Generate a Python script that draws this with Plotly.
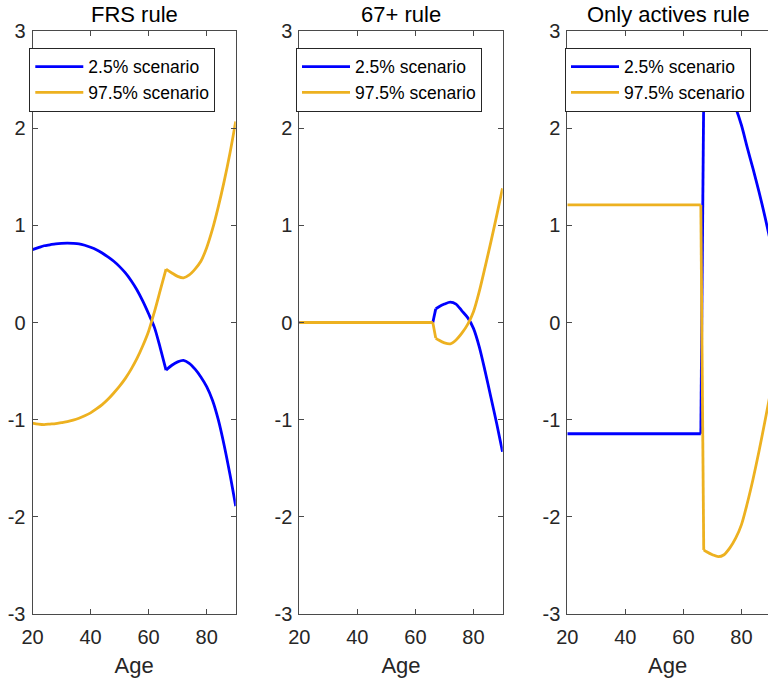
import plotly.graph_objects as go

# ---- data -----------------------------------------------------------------
series_names = ["2.5% scenario", "97.5% scenario"]
panel_titles = ["FRS rule", "67+ rule", "Only actives rule"]

frs_ages = [20, 22, 24, 26, 28, 30, 32, 34, 36, 38, 40, 42, 44, 46, 48, 50, 52, 54,
            56, 58, 60, 62, 64, 66, 68, 70, 72, 74, 76, 78, 80, 82, 84, 86, 88, 90]
frs_low = [0.75, 0.77, 0.79, 0.80, 0.81, 0.815, 0.817, 0.815, 0.81, 0.795, 0.775, 0.75,
           0.715, 0.675, 0.63, 0.575, 0.51, 0.43, 0.335, 0.22, 0.09, -0.05, -0.26, -0.49,
           -0.44, -0.405, -0.39, -0.42, -0.48, -0.56, -0.66, -0.80, -1.0, -1.26, -1.56, -1.89]
frs_high = [-1.035, -1.045, -1.05, -1.045, -1.04, -1.03, -1.02, -1.005, -0.985, -0.96,
            -0.93, -0.89, -0.845, -0.79, -0.725, -0.655, -0.575, -0.48, -0.37, -0.24, -0.09,
            0.11, 0.33, 0.55, 0.51, 0.475, 0.46, 0.49, 0.55, 0.63, 0.77, 0.96, 1.19, 1.45,
            1.74, 2.07]

r67_ages = [20, 66, 67, 68, 70, 72, 74, 76, 78, 80, 82, 84, 86, 88, 90]
r67_low = [0, 0, 0.14, 0.16, 0.19, 0.21, 0.19, 0.12, 0.05, -0.06, -0.25, -0.50, -0.77,
           -1.04, -1.33]
r67_high = [0, 0, -0.16, -0.18, -0.21, -0.22, -0.18, -0.11, -0.02, 0.11, 0.32, 0.57,
            0.83, 1.10, 1.38]

act_ages = [20, 66, 67, 68, 70, 72, 74, 76, 78, 80, 82, 84, 86, 88, 90]
act_low = [-1.145, -1.145, 2.35, 2.39, 2.44, 2.45, 2.43, 2.36, 2.21, 2.03, 1.80, 1.58,
           1.35, 1.10, 0.83]
act_high = [1.21, 1.21, -2.34, -2.36, -2.39, -2.41, -2.39, -2.32, -2.22, -2.08, -1.86,
            -1.61, -1.33, -1.03, -0.72]

# ages where a rule switches on and the curves turn sharply
frs_breaks = [66]
r67_breaks = [66, 67]
act_breaks = [66, 67]

x_ticks = [20, 40, 60, 80]
y_ticks = [-3, -2, -1, 0, 1, 2, 3]
y_tick_text = ["-3", "-2", "-1", "0", "1", "2", "3"]

# ---- styling --------------------------------------------------------------
W, H = 768, 680
BLUE = "#0000FF"
ORANGE = "#EDB120"
AXIS = "#4a4a4a"
TEXT = "#262626"
FONT = "Liberation Sans, Arial, Helvetica, sans-serif"

# left/right pixel edges of each axes box (x=20 .. x=90)
px_per_year = 203.2 / 70
boxes = [(32.5, 235.7), (299.3, 502.7), (567.3, 770.5)]
top_px, bottom_px = 31, 614.3

panels = [
    (frs_ages, frs_low, frs_high, frs_breaks),
    (r67_ages, r67_low, r67_high, r67_breaks),
    (act_ages, act_low, act_high, act_breaks),
]
legend_x_px = [29.3, 296.0, 565.0]
legend_top_px = 47.7


def pieces(ages, vals, breaks):
    """Split a series at the break ages so each smooth stretch is drawn on its own."""
    cuts = [0] + [ages.index(b) for b in breaks] + [len(ages) - 1]
    out = []
    for a, b in zip(cuts[:-1], cuts[1:]):
        if b > a:
            out.append((ages[a:b + 1], vals[a:b + 1]))
    return out


fig = go.Figure()
layout = dict(
    width=W, height=H,
    margin=dict(l=0, r=0, t=top_px, b=H - bottom_px, autoexpand=False),
    paper_bgcolor="white", plot_bgcolor="white",
    font=dict(family=FONT, color=TEXT),
    annotations=[],
)

plot_h = bottom_px - top_px
for i, (ages, low, high, breaks) in enumerate(panels):
    n = "" if i == 0 else str(i + 1)
    leg = "legend" + n
    for vals, color, name in [(low, BLUE, series_names[0]), (high, ORANGE, series_names[1])]:
        for k, (xs, ys) in enumerate(pieces(ages, vals, breaks)):
            fig.add_trace(go.Scatter(
                x=xs, y=ys, mode="lines", name=name,
                line=dict(color=color, width=2.8, shape="spline", smoothing=0.8),
                xaxis="x" + n, yaxis="y" + n, legend=leg,
                legendgroup=f"{leg}-{name}", showlegend=(k == 0),
            ))

    left, right = boxes[i]
    vis_right = min(right, W)
    x_max = 20 + (vis_right - left) / px_per_year
    layout["xaxis" + n] = dict(
        domain=[left / W, vis_right / W], range=[20, x_max], anchor="y" + n,
        tickvals=x_ticks, ticks="inside", ticklen=5, tickcolor=AXIS,
        showline=True, linecolor=AXIS, linewidth=1, mirror="ticks",
        showgrid=False, zeroline=False,
        tickfont=dict(size=20, color=TEXT), ticklabelstandoff=5,
        title=dict(text="Age", font=dict(size=22, color=TEXT), standoff=10),
    )
    layout["yaxis" + n] = dict(
        domain=[0, 1], range=[-3, 3], anchor="x" + n,
        tickvals=y_ticks, ticktext=y_tick_text,
        ticks="inside", ticklen=5, tickcolor=AXIS,
        showline=True, linecolor=AXIS, linewidth=1,
        mirror=("ticks" if right <= W else False),
        showgrid=False, zeroline=False,
        tickfont=dict(size=20, color=TEXT), ticklabelstandoff=2,
    )
    layout[leg] = dict(
        x=legend_x_px[i] / W, xanchor="left",
        y=1 - (legend_top_px - top_px) / plot_h, yanchor="top",
        bgcolor="white", bordercolor=TEXT, borderwidth=1,
        font=dict(size=17.5, color="black"), itemwidth=48,
        tracegroupgap=0,
    )
    layout["annotations"].append(dict(
        text=panel_titles[i], xref="paper", yref="paper",
        x=(left + right) / 2 / W, y=1, xanchor="center", yanchor="bottom",
        yshift=2, showarrow=False, font=dict(size=22, color="black"),
    ))

fig.update_layout(**layout)
fig.write_html("out.html")
